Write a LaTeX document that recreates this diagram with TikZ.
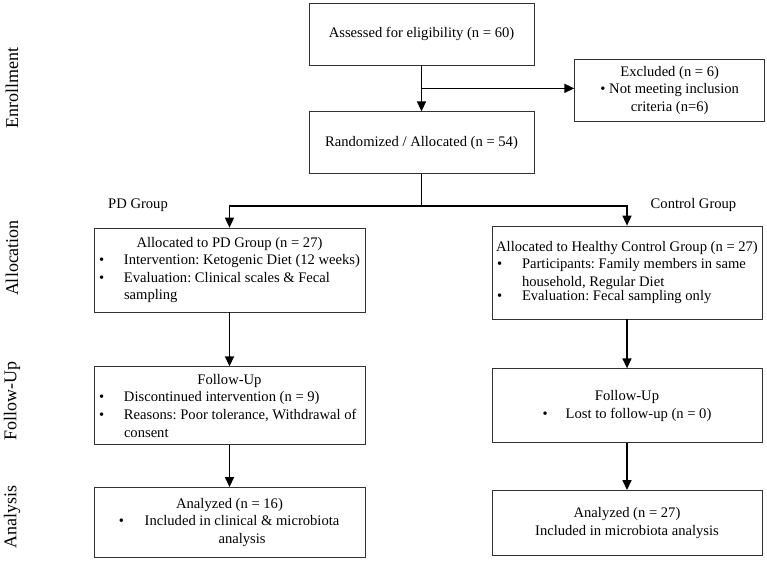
\documentclass[tikz,border=0pt]{standalone}
\usepackage{fontspec}
\setmainfont{Liberation Serif}
\usetikzlibrary{positioning}
\usetikzlibrary{calc}
\usetikzlibrary{arrows.meta}

\newcommand{\flowitem}[2][238pt]{\makebox[27pt][l]{\hspace{2pt}\textbullet}\parbox[t]{#1}{\raggedright #2}}

\tikzset{
    box/.style={draw=black!80, line width=0.7pt, inner xsep=3pt, inner ysep=2pt, font=\fontsize{14.6}{17.6}\selectfont\frenchspacing},
    flow/.style={line width=1.5pt, -{Triangle[length=10pt,width=9pt]}},
    stage/.style={rotate=90, font=\fontsize{18}{20}\selectfont},
    grp/.style={font=\fontsize{14.6}{17.6}\selectfont}
}

\begin{document}
\begin{tikzpicture}[x=1pt, y=1pt]
    \useasboundingbox (0,0) rectangle (767,-560);

    % enrollment
    \node [box, minimum width=225pt, minimum height=62pt] (assess) at (421.5,-34) {Assessed for eligibility (n = 60)};
    \node [box, below=46pt of assess, minimum width=225pt, minimum height=62pt] (rand) {Randomized / Allocated (n = 54)};
    \node [box, below right=25pt and 40pt of assess.east, minimum width=190pt, minimum height=62pt, align=center] (excl) {Excluded (n = 6)\\\textbullet{} Not meeting inclusion\\criteria (n=6)};

    % allocation
    \node [box, minimum width=271pt, minimum height=84pt, align=left] (pdalloc) at (229.5,-270) {\makebox[265pt]{Allocated to PD Group (n = 27)}\\
        \flowitem{Intervention: Ketogenic Diet (12 weeks)}\\
        \flowitem{Evaluation: Clinical scales \& Fecal sampling}};
    \node [box, minimum width=270pt, minimum height=93pt, align=left] (ctrlalloc) at (627,-272.5) {\makebox[264pt]{Allocated to Healthy Control Group (n = 27)}\\
        \flowitem[237pt]{Participants: Family members in same household, Regular Diet}\\
        \flowitem[237pt]{Evaluation: Fecal sampling only}};

    \node [grp] (pdlabel) at (138,-205) {PD Group};
    \node [grp] (ctrllabel) at (693.5,-205) {Control Group};

    % follow-up
    \node [box, below=54pt of pdalloc, minimum width=271pt, minimum height=78pt, align=left] (pdfollow) {\makebox[265pt]{Follow-Up}\\
        \flowitem{Discontinued intervention (n = 9)}\\
        \flowitem{Reasons: Poor tolerance, Withdrawal of consent}};
    \node [box, below=49pt of ctrlalloc, minimum width=270pt, minimum height=74pt, align=center] (ctrlfollow) {Follow-Up\\\textbullet\hspace{18pt}Lost to follow-up (n = 0)};

    % analysis
    \node [box, below=42pt of pdfollow, minimum width=271pt, minimum height=70pt, align=center] (pdanalyzed) {Analyzed (n = 16)\\\textbullet\hspace{20pt}\parbox[t]{196pt}{\centering Included in clinical \& microbiota\\analysis}};
    \node [box, below=47pt of ctrlfollow, minimum width=270pt, minimum height=65pt, align=center] (ctrlanalyzed) {Analyzed (n = 27)\\Included in microbiota analysis};

    % stages
    \node [stage] (enrol) at (12,-88) {Enrollment};
    \node [stage] (alloc) at (12,-258) {Allocation};
    \node [stage] (follow) at (12,-401) {Follow-Up};
    \node [stage] (analysis) at (12,-517) {Analysis};

    % connectors
    \coordinate (exc) at ($(assess.south)!0.5!(rand.north)$);
    \coordinate [below=32pt of rand] (split);

    \draw [flow] (assess) -- (rand);
    \draw [flow] (exc) -- (exc -| excl.west);
    \draw [line width=1.5pt] (rand) -- (split);
    \draw [flow] (split) -| (pdalloc.north);
    \draw [flow] (split) -| (ctrlalloc.north);
    \draw [flow] (pdalloc) -- (pdfollow);
    \draw [flow] (pdfollow) -- (pdanalyzed);
    \draw [flow] (ctrlalloc) -- (ctrlfollow);
    \draw [flow] (ctrlfollow) -- (ctrlanalyzed);
\end{tikzpicture}
\end{document}
